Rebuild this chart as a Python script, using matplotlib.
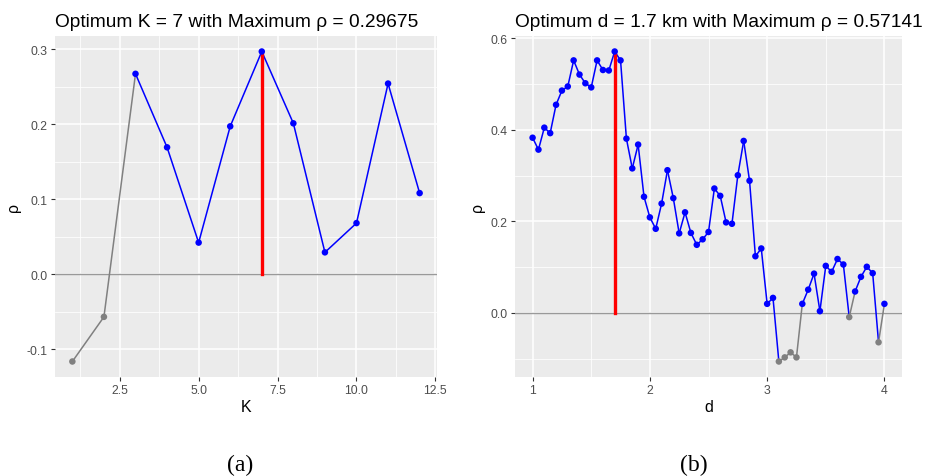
import numpy as np
import matplotlib
matplotlib.use("Agg")
import matplotlib.pyplot as plt
from matplotlib.ticker import MultipleLocator

plt.rcParams['font.family'] = ['Liberation Sans', 'DejaVu Sans']

# panel (a): number of neighbours K
k_vals = list(range(1, 13))
rho_k = [-0.1165, -0.057, 0.267, 0.169, 0.042, 0.197, 0.29675,
         0.201, 0.029, 0.068, 0.254, 0.108]

# panel (b): distance d (km)
d_vals = [round(1.0 + 0.05 * i, 2) for i in range(61)]
rho_d = [0.383, 0.357, 0.405, 0.393, 0.455, 0.486, 0.495, 0.552, 0.521, 0.502,
         0.493, 0.552, 0.531, 0.530, 0.57141, 0.552, 0.381, 0.316, 0.368, 0.254,
         0.209, 0.184, 0.239, 0.312, 0.251, 0.174, 0.220, 0.175, 0.149, 0.161,
         0.177, 0.272, 0.256, 0.198, 0.195, 0.301, 0.376, 0.289, 0.124, 0.141,
         0.020, 0.033, -0.106, -0.097, -0.086, -0.097, 0.020, 0.051, 0.086, 0.004,
         0.103, 0.090, 0.118, 0.106, -0.009, 0.047, 0.079, 0.101, 0.087, -0.064,
         0.020]

titles = ["Optimum K = 7 with Maximum ρ = 0.29675",
          "Optimum d = 1.7 km with Maximum ρ = 0.57141"]
xlabels = ["K", "d"]
captions = ["(a)", "(b)"]

W, H = 927, 477
fig = plt.figure(figsize=(W / 100, H / 100), dpi=100)

def panel(rect, x, y, title, xlabel, xmaj, xmin, ymaj, ymin):
    ax = fig.add_axes(rect)
    x = np.asarray(x, float)
    y = np.asarray(y, float)
    ax.set_facecolor('#EBEBEB')
    for s in ax.spines.values():
        s.set_visible(False)
    ax.xaxis.set_major_locator(MultipleLocator(xmaj))
    ax.xaxis.set_minor_locator(MultipleLocator(xmin))
    ax.yaxis.set_major_locator(MultipleLocator(ymaj))
    ax.yaxis.set_minor_locator(MultipleLocator(ymin))
    ax.grid(which='major', color='white', linewidth=1.1)
    ax.grid(which='minor', color='white', linewidth=0.55)
    ax.set_axisbelow(True)
    ax.tick_params(which='major', length=2.9, width=0.8, color='#333333',
                   labelcolor='#4D4D4D', labelsize=8.8, pad=2.2)
    ax.tick_params(which='minor', length=0)

    ax.axhline(0, color='#999999', linewidth=1.0, zorder=1)
    # segment colour follows the starting point (ggplot style)
    for i in range(len(x) - 1):
        c = 'blue' if y[i] >= 0 else 'gray'
        ax.plot(x[i:i + 2], y[i:i + 2], color=c, linewidth=1.1, zorder=2)
    imax = int(np.argmax(y))
    ax.plot([x[imax], x[imax]], [0, y[imax]], color='red', linewidth=2.4, zorder=3)
    cols = np.where(y >= 0, 'blue', 'gray')
    ax.scatter(x, y, c=cols, s=22, zorder=4, linewidths=0)

    xr = x.max() - x.min()
    yr = y.max() - y.min()
    ax.set_xlim(x.min() - 0.05 * xr, x.max() + 0.05 * xr)
    ax.set_ylim(y.min() - 0.05 * yr, y.max() + 0.05 * yr)
    ax.set_xlabel(xlabel, fontsize=11.5, labelpad=2)
    ax.set_ylabel('ρ', fontsize=11.5, labelpad=4)
    ax.set_title(title, loc='left', fontsize=13.8, pad=7)
    return ax

ax1 = panel([55 / W, 1 - 378 / H, 382 / W, 341 / H], k_vals, rho_k,
            titles[0], xlabels[0], 2.5, 1.25, 0.1, 0.05)
ax2 = panel([515 / W, 1 - 378 / H, 387 / W, 341 / H], d_vals, rho_d,
            titles[1], xlabels[1], 1.0, 0.5, 0.2, 0.1)
ax1.xaxis.set_major_formatter(plt.FuncFormatter(lambda v, p: f"{v:.1f}"))
ax1.yaxis.set_major_formatter(plt.FuncFormatter(lambda v, p: f"{v:.1f}"))
ax2.xaxis.set_major_formatter(plt.FuncFormatter(lambda v, p: f"{v:.0f}"))
ax2.yaxis.set_major_formatter(plt.FuncFormatter(lambda v, p: f"{v:.1f}"))

fig.text(240 / W, 1 - 465 / H, captions[0], ha='center', va='center',
         fontsize=17, family='Liberation Serif')
fig.text(694 / W, 1 - 465 / H, captions[1], ha='center', va='center',
         fontsize=17, family='Liberation Serif')

fig.savefig('out.png', dpi=100)
